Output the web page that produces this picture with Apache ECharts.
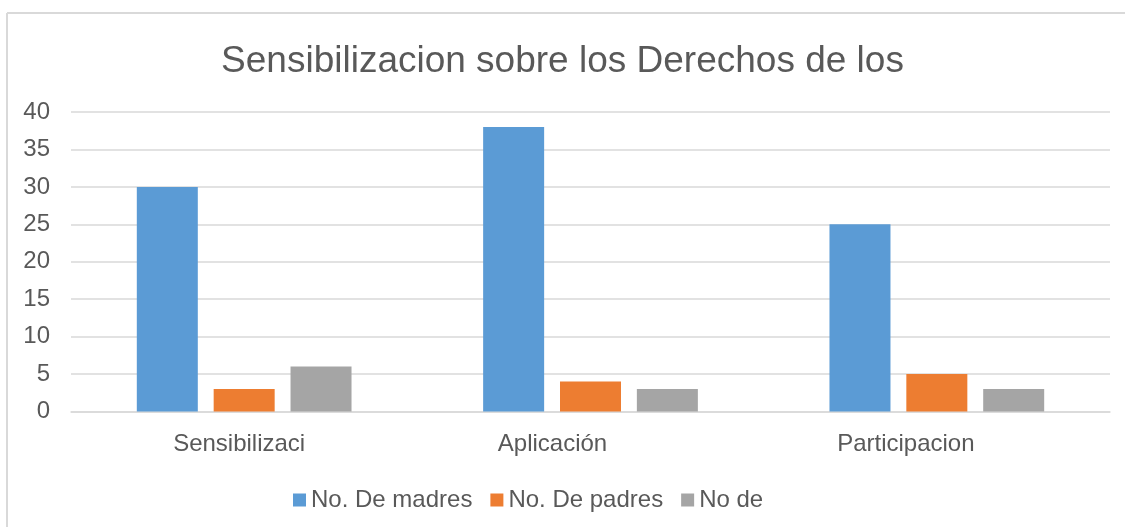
<!DOCTYPE html>
<html>
<head>
<meta charset="utf-8">
<script src="https://cdn.jsdelivr.net/npm/echarts@6/dist/echarts.min.js"></script>
<style>
html,body{margin:0;padding:0;background:#fff;}
#c{width:1125px;height:527px;}
</style>
</head>
<body>
<div id="c"></div>
<script>
var titleText = 'Sensibilizacion sobre los Derechos de los';
var categories = ['Sensibilizaci', 'Aplicación', 'Participacion'];
var seriesNames = ['No. De madres', 'No. De padres', 'No de'];
var madres = [30, 38, 25];
var padres = [3, 4, 5];
var noDe = [6, 3, 3];
var yTicks = [0, 5, 10, 15, 20, 25, 30, 35, 40];

// label horizontal shifts (style only), as in the reference
var labelShift = [-5, -38, -31];

var colors = ['#5b9bd5', '#ed7d31', '#a5a5a5'];
var font = '"Liberation Sans", Arial, sans-serif';
var chart = echarts.init(document.getElementById('c'), null, {renderer: 'canvas'});
var values = [madres, padres, noDe];
chart.setOption({
  animation: false,
  color: colors,
  title: {
    text: titleText,
    left: 'center',
    top: 38,
    textStyle: {fontFamily: font, fontSize: 37, fontWeight: 'normal', color: '#595959'}
  },
  graphic: [
    {type: 'line', shape: {x1: 7, y1: 13, x2: 1125, y2: 13}, style: {stroke: '#d9d9d9', lineWidth: 2}},
    {type: 'line', shape: {x1: 7, y1: 13, x2: 7, y2: 527}, style: {stroke: '#d9d9d9', lineWidth: 2}}
  ],
  legend: {
    data: seriesNames,
    left: 288,
    top: 483,
    itemWidth: 13,
    itemHeight: 13,
    itemGap: 18,
    icon: 'rect',
    textStyle: {fontFamily: font, fontSize: 24, color: '#595959'}
  },
  grid: {left: 71, right: 15, top: 112, bottom: 115.5, containLabel: false},
  xAxis: {
    type: 'category',
    data: categories.map(function (c, i) {
      var s = labelShift[i];
      return {value: c, textStyle: {padding: s < 0 ? [0, -2 * s, 0, 0] : [0, 0, 0, 2 * s]}};
    }),
    axisLine: {show: true, lineStyle: {color: '#d9d9d9', width: 1.5}},
    axisTick: {show: false},
    axisLabel: {fontFamily: font, fontSize: 24, color: '#595959', margin: 21}
  },
  yAxis: {
    type: 'value',
    min: yTicks[0],
    max: yTicks[yTicks.length - 1],
    interval: yTicks[1] - yTicks[0],
    axisLine: {show: false},
    axisTick: {show: false},
    splitLine: {lineStyle: {color: '#d9d9d9', width: 1.5}},
    axisLabel: {fontFamily: font, fontSize: 24, color: '#595959', margin: 21}
  },
  series: seriesNames.map(function (n, i) {
    return {
      name: n,
      type: 'bar',
      data: values[i],
      barWidth: 61,
      barGap: '26%',
      itemStyle: {color: colors[i]}
    };
  })
});
</script>
</body>
</html>
